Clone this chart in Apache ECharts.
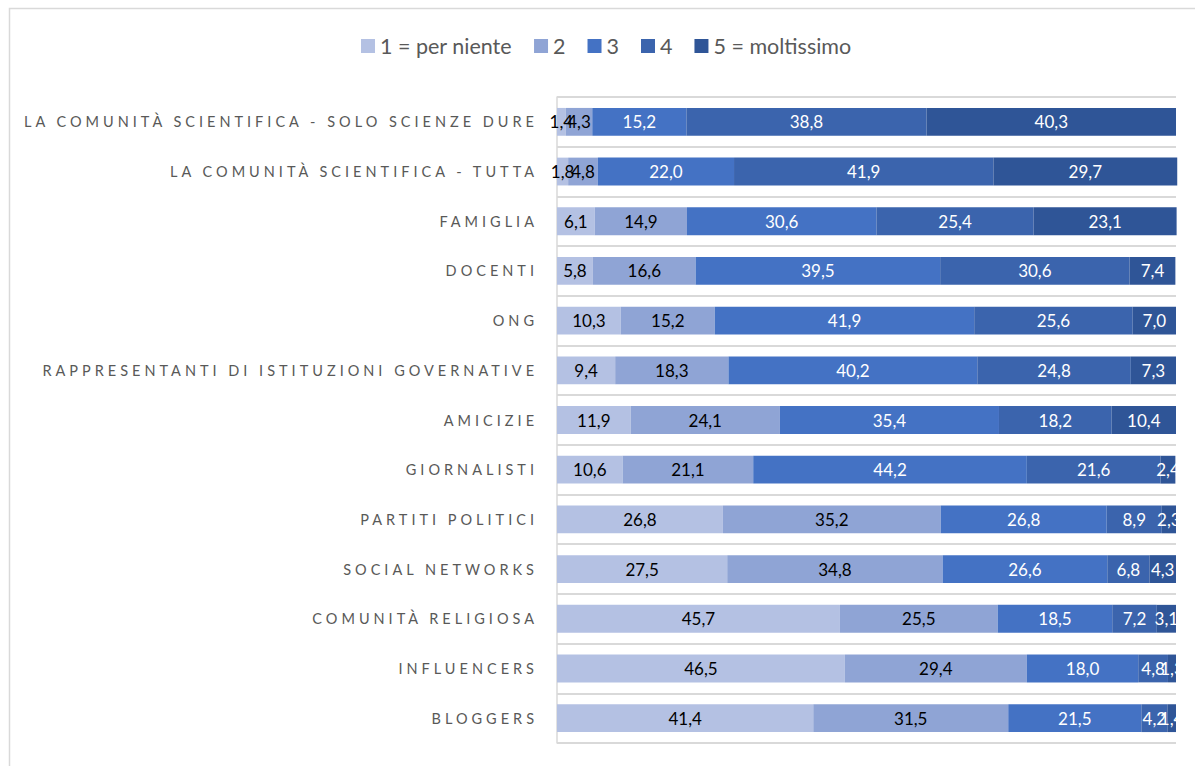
<!DOCTYPE html>
<html>
<head>
<meta charset="utf-8">
<script src="https://cdn.jsdelivr.net/npm/echarts@6/dist/echarts.min.js"></script>
<style>
  html, body { margin: 0; padding: 0; background: #fff; }
  #chart { width: 1195px; height: 766px; }
  #chart text[fill="#595958"] { letter-spacing: 4px; }
</style>
</head>
<body>
<div id="chart"></div>
<script>
const categories = [
  'LA COMUNITÀ SCIENTIFICA - SOLO SCIENZE DURE',
  'LA COMUNITÀ SCIENTIFICA - TUTTA',
  'FAMIGLIA',
  'DOCENTI',
  'ONG',
  'RAPPRESENTANTI DI ISTITUZIONI GOVERNATIVE',
  'AMICIZIE',
  'GIORNALISTI',
  'PARTITI POLITICI',
  'SOCIAL NETWORKS',
  'COMUNITÀ RELIGIOSA',
  'INFLUENCERS',
  'BLOGGERS'
];
const seriesNames = ['1 = per niente', '2', '3', '4', '5 = moltissimo'];
const v1 = [1.4, 1.8, 6.1, 5.8, 10.3, 9.4, 11.9, 10.6, 26.8, 27.5, 45.7, 46.5, 41.4];
const v2 = [4.3, 4.8, 14.9, 16.6, 15.2, 18.3, 24.1, 21.1, 35.2, 34.8, 25.5, 29.4, 31.5];
const v3 = [15.2, 22.0, 30.6, 39.5, 41.9, 40.2, 35.4, 44.2, 26.8, 26.6, 18.5, 18.0, 21.5];
const v4 = [38.8, 41.9, 25.4, 30.6, 25.6, 24.8, 18.2, 21.6, 8.9, 6.8, 7.2, 4.8, 4.2];
const v5 = [40.3, 29.7, 23.1, 7.4, 7.0, 7.3, 10.4, 2.4, 2.3, 4.3, 3.1, 1.3, 1.4];
const values = [v1, v2, v3, v4, v5];
const colors = ['#b4c1e3', '#8fa4d5', '#4472c4', '#3b64ad', '#2f5597'];
const labelColors = ['#000000', '#000000', '#ffffff', '#ffffff', '#ffffff'];

const chart = echarts.init(document.getElementById('chart'), null, { renderer: 'svg' });
chart.setOption({
  animation: false,
  backgroundColor: '#ffffff',
  graphic: [{
    type: 'rect',
    shape: { x: 9.5, y: 8.5, width: 1400, height: 1000 },
    style: { fill: 'none', stroke: '#d9d9d9', lineWidth: 1.5 },
    silent: true, z: -10
  }],
  legend: {
    top: 30,
    left: 356,
    itemWidth: 14,
    itemHeight: 14,
    itemGap: 22,
    icon: 'rect',
    textStyle: { fontFamily: 'Lato', fontSize: 21.5, color: '#595959' },
    data: seriesNames
  },
  grid: { left: 557, right: 19, top: 97, bottom: 23, containLabel: false },
  xAxis: {
    type: 'value', min: 0, max: 100,
    show: false,
    splitLine: { show: false }
  },
  yAxis: {
    type: 'category',
    inverse: true,
    data: categories,
    axisTick: { show: false },
    axisLine: { show: true, lineStyle: { color: '#d9d9d9', width: 1.5 } },
    splitLine: { show: true, lineStyle: { color: '#d9d9d9', width: 2 } },
    axisLabel: {
      margin: 19,
      fontFamily: 'Lato',
      fontSize: 14.5,
      color: '#595958'
    }
  },
  series: values.map((vals, i) => ({
    name: seriesNames[i],
    type: 'bar',
    stack: 'total',
    barWidth: '56%',
    clip: false,
    itemStyle: { color: colors[i] },
    label: {
      show: true,
      position: 'inside',
      fontFamily: 'Lato',
      fontSize: 17,
      color: labelColors[i],
      formatter: p => p.value.toFixed(1).replace('.', ',')
    },
    data: vals
  }))
});
</script>
</body>
</html>
